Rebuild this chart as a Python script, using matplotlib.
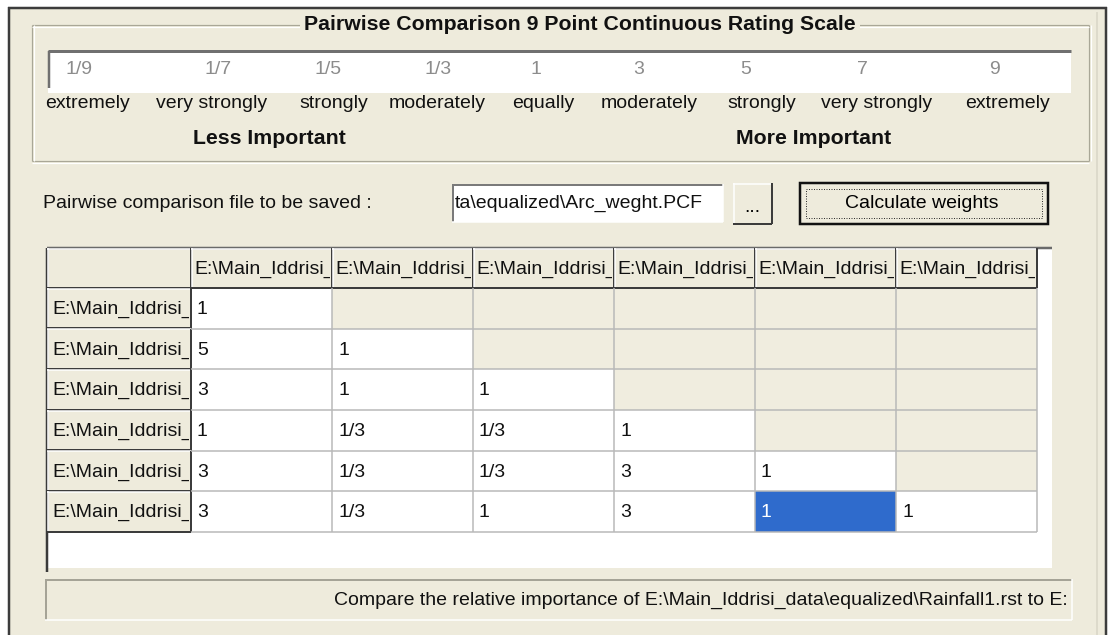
import matplotlib
matplotlib.use("Agg")
import matplotlib.pyplot as plt
from matplotlib.patches import Rectangle

# ---- content -------------------------------------------------------------
TITLE = "Pairwise Comparison 9 Point Continuous Rating Scale"
SCALE_VALUES = ["1/9", "1/7", "1/5", "1/3", "1", "3", "5", "7", "9"]
SCALE_WORDS = ["extremely", "very strongly", "strongly", "moderately", "equally",
               "moderately", "strongly", "very strongly", "extremely"]
SIDE_LABELS = ["Less Important", "More Important"]
FILE_LABEL = "Pairwise comparison file to be saved :"
FILE_NAME = "ta\\equalized\\Arc_weght.PCF"
BUTTON_TEXT = "Calculate weights"
LAYER = "E:\\Main_Iddrisi_"          # column / row captions, cut by the cell
N_LAYERS = 6
MATRIX = [
    ["1"],
    ["5", "1"],
    ["3", "1", "1"],
    ["1", "1/3", "1/3", "1"],
    ["3", "1/3", "1/3", "3", "1"],
    ["3", "1/3", "1", "3", "1", "1"],
]
SELECTED = (5, 4)
STATUS = "Compare the relative importance of E:\\Main_Iddrisi_data\\equalized\\Rainfall1.rst to E:"

# ---- layout (pixels) -----------------------------------------------------
W, H = 1108, 635
VALUE_X = [79, 218, 328, 438, 536, 639, 746, 862, 995]
WORD_X = [87, 212, 334, 437, 543, 649, 762, 877, 1008]
SIDE_X = [269, 814]
TABLE_L, TABLE_T, TABLE_R, TABLE_B = 47, 248, 1052, 568
HEAD_W, COL_W = 144, 141
HEAD_H, ROW_H = 40, 40.67

BG = "#eeebdc"
CELL_BG = "#f0eddf"
DARK = "#3c3c3c"
GRID = "#b8b8b8"
BLUE = "#2f6bcc"

FS, FS_BOLD = 14, 15.3
plt.rcParams["font.family"] = "Liberation Sans"

fig = plt.figure(figsize=(W / 100, H / 100), dpi=100)
ax = fig.add_axes([0, 0, 1, 1])
ax.set_xlim(0, W)
ax.set_ylim(H, 0)
ax.axis("off")
fig.patch.set_facecolor("white")

PX = 0.72  # one pixel in points


def rect(x0, y0, x1, y1, fc, ec="none", lw=0, z=1):
    r = Rectangle((x0, y0), x1 - x0, y1 - y0, facecolor=fc, edgecolor=ec,
                  linewidth=lw, zorder=z)
    ax.add_patch(r)
    return r


def hline(y, x0, x1, c, w=1, z=3):
    ax.plot([x0, x1], [y, y], color=c, lw=w * PX, zorder=z, solid_capstyle="butt")


def vline(x, y0, y1, c, w=1, z=3):
    ax.plot([x, x], [y0, y1], color=c, lw=w * PX, zorder=z, solid_capstyle="butt")


def raised(x0, y0, x1, y1, fc=BG, z=2):
    rect(x0, y0, x1, y1, fc, z=z)
    hline(y0 + 0.5, x0, x1, "white", 1.5, z + 1)
    vline(x0 + 0.5, y0, y1, "white", 1.5, z + 1)
    hline(y1 - 0.5, x0, x1, DARK, 2, z + 1)
    vline(x1 - 0.5, y0, y1, DARK, 2, z + 1)


def sunken(x0, y0, x1, y1, fc="white", z=2, dark="#7a7a7a"):
    rect(x0, y0, x1, y1, fc, z=z)
    hline(y0 + 0.5, x0, x1, dark, 2, z + 1)
    vline(x0 + 0.5, y0, y1, dark, 2, z + 1)
    hline(y1 - 0.5, x0, x1, "white", 1.5, z + 1)
    vline(x1 - 0.5, y0, y1, "white", 1.5, z + 1)


def clipped_text(x, y, s, x0, y0, w, h, **kw):
    t = ax.text(x, y, s, va="center", ha="left", fontsize=FS, zorder=8,
                clip_on=True, **kw)
    t.set_clip_path(Rectangle((x0, y0), w, h, transform=ax.transData))
    return t


# dialog frame
rect(9, 8, 1106, H + 2, BG, z=0)
hline(8, 8, 1107, DARK, 2.5)
vline(9, 7, H, DARK, 2.5)
vline(1105.5, 7, H, DARK, 2.5)
vline(1097, 12, H, "#d8d5c6", 1.5)

# group box with etched border
GB_T, GB_B = 25, 161
for off, c in ((0, "#a9a797"), (1.5, "white")):
    hline(GB_T + off, 32, 1089, c, 1.2)
    hline(GB_B + off, 32, 1089, c, 1.2)
    vline(32 + off, GB_T, GB_B, c, 1.2)
    vline(1089 + off, GB_T, GB_B, c, 1.2)
ax.text(580, GB_T, TITLE, ha="center", va="center", fontsize=FS_BOLD, fontweight="bold",
        color="#111111", zorder=6,
        bbox=dict(boxstyle="square,pad=0.2", fc=BG, ec="none"))

# rating scale strip
rect(48, 51, 1071, 93, "white", z=2)
hline(51, 48, 1071, "#707070", 3)
vline(48.5, 51, 88, "#707070", 2.5)
for x, v in zip(VALUE_X, SCALE_VALUES):
    ax.text(x, 70, v, ha="center", va="center", fontsize=FS, color="#8c8c8c", zorder=5)
for x, w in zip(WORD_X, SCALE_WORDS):
    ax.text(x, 103, w, ha="center", va="center", fontsize=FS, color="#111111", zorder=5)
for x, s in zip(SIDE_X, SIDE_LABELS):
    ax.text(x, 139, s, ha="center", va="center", fontsize=FS_BOLD, fontweight="bold",
            color="#111111", zorder=5)

# file row
ax.text(43, 204, FILE_LABEL, ha="left", va="center", fontsize=FS, color="#111111")
sunken(452, 184, 723, 222)
clipped_text(455, 203, FILE_NAME, 452, 184, 271, 38, color="#111111")
raised(733, 183, 772, 224)
ax.text(752, 208, "...", ha="center", va="center", fontsize=FS, zorder=6)
rect(800, 183, 1048, 224, BG, ec="#111111", lw=2.5 * PX, z=3)
rect(806, 189, 1042, 218, "none", ec="#333333", lw=1 * PX, z=4).set_linestyle((0, (1, 1.5)))
ax.text(922, 203, BUTTON_TEXT, ha="center", va="center", fontsize=FS, zorder=6)

# grid area
rect(TABLE_L, TABLE_T, TABLE_R, TABLE_B, "white", z=1)
hline(TABLE_T, TABLE_L, TABLE_R, "#6a6a6a", 2.5)
vline(TABLE_L, TABLE_T, TABLE_B + 4, "#3a3a3a", 2.5)

col_x = [TABLE_L + HEAD_W + i * COL_W for i in range(N_LAYERS + 1)]
row_y = [TABLE_T + HEAD_H + i * ROW_H for i in range(N_LAYERS + 1)]

# header row and row header column
raised(TABLE_L, TABLE_T, col_x[0], row_y[0])
for i in range(N_LAYERS):
    x0, x1 = col_x[i], col_x[i + 1]
    raised(x0, TABLE_T, x1, row_y[0])
    clipped_text(x0 + 3, (TABLE_T + row_y[0]) / 2 + 1, LAYER,
                 x0, TABLE_T, COL_W - 2, HEAD_H, color="#111111")
for r in range(N_LAYERS):
    y0, y1 = row_y[r], row_y[r + 1]
    raised(TABLE_L, y0, col_x[0], y1)
    clipped_text(TABLE_L + 5, (y0 + y1) / 2 + 1, LAYER,
                 TABLE_L, y0, HEAD_W - 2, ROW_H, color="#111111")

# matrix cells
for r in range(N_LAYERS):
    y0, y1 = row_y[r], row_y[r + 1]
    for c in range(N_LAYERS):
        x0, x1 = col_x[c], col_x[c + 1]
        if c < len(MATRIX[r]):
            selected = (r, c) == SELECTED
            rect(x0, y0, x1, y1, BLUE if selected else "white", z=2)
            ax.text(x0 + 6, (y0 + y1) / 2 + 1, MATRIX[r][c], ha="left", va="center",
                    fontsize=FS, color="white" if selected else "#111111", zorder=6)
        else:
            rect(x0, y0, x1, y1, CELL_BG, z=2)
    hline(y1, col_x[0], col_x[-1], GRID, 1.5)
for x in col_x[1:]:
    vline(x, row_y[0], row_y[-1], GRID, 1.5)

# status bar
sunken(45, 579, 1072, 620, fc=BG, dark="#a5a396")
ax.text(1068, 600, STATUS, ha="right", va="center", fontsize=FS, color="#111111", zorder=6)

fig.savefig("out.png", dpi=100, facecolor=fig.get_facecolor())
